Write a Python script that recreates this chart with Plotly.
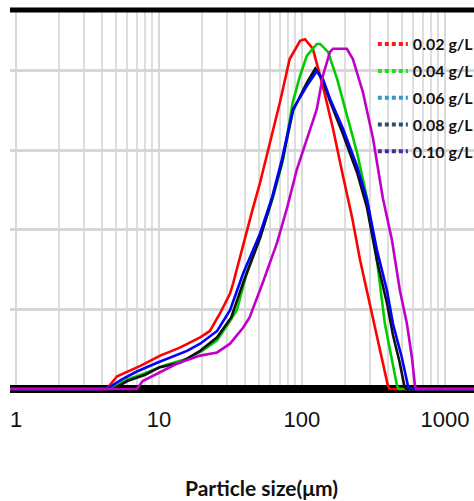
import plotly.graph_objects as go

# ---- data ----
series_names = ["0.02 g/L", "0.04 g/L", "0.06 g/L", "0.08 g/L", "0.10 g/L"]

red_size = [0.9, 4.3, 5.1, 7.4, 10.2, 14, 19.4, 22.7, 26.7, 31.4, 33, 41, 45, 51, 58, 70, 82, 97, 105, 119,
            140, 165, 194, 224, 255, 314, 363, 399, 410, 1700]
red_val = [0, 0, 0.16, 0.29, 0.42, 0.52, 0.65, 0.73, 0.95, 1.2, 1.33, 2.0, 2.25, 2.6, 3.0, 3.6, 4.15, 4.38, 4.4, 4.28,
           3.81, 3.27, 2.67, 2.16, 1.62, 0.9, 0.39, 0.04, 0, 0]

green_size = [0.9, 4.6, 6, 8, 11, 15.7, 20, 25.4, 30, 35, 41, 52, 63, 74, 86, 97, 108, 127, 134, 152,
              176, 206, 243, 285, 330, 380, 426, 462, 475, 1700]
green_val = [0, 0, 0.12, 0.2, 0.3, 0.38, 0.48, 0.61, 0.8, 0.99, 1.45, 1.96, 2.42, 2.9, 3.6, 3.94, 4.19, 4.34, 4.34, 4.24,
             3.9, 3.43, 2.97, 2.4, 1.7, 0.82, 0.39, 0.04, 0, 0]

blue_size = [0.9, 4.3, 5.5, 7, 9.7, 15.7, 19.4, 25.5, 31.4, 38.7, 51, 62, 72.4, 86.5, 108, 127, 140, 157, 194, 243,
             285, 334, 393, 433, 500, 551, 565, 1700]
blue_val = [0, 0, 0.12, 0.22, 0.33, 0.48, 0.57, 0.73, 0.99, 1.45, 1.96, 2.42, 2.89, 3.52, 3.81, 4.0, 3.9, 3.65, 3.27, 2.8,
            2.38, 1.75, 1.24, 0.82, 0.39, 0.04, 0, 0]

black_size = [0.9, 4.8, 6, 8, 10, 14, 19.4, 25.5, 32, 39, 51, 62, 72.4, 86.5, 108, 124, 140, 157, 194, 243,
              285, 334, 393, 433, 480, 520, 535, 1700]
black_val = [0, 0, 0.1, 0.18, 0.27, 0.33, 0.48, 0.65, 0.9, 1.35, 1.9, 2.4, 2.85, 3.5, 3.85, 4.03, 3.88, 3.62, 3.2, 2.72,
             2.28, 1.62, 1.08, 0.68, 0.35, 0.04, 0, 0]

magenta_size = [0.9, 7, 7.7, 9.7, 13.4, 19.4, 25.5, 31.4, 38.7, 43, 53, 67, 79, 92, 102, 127, 140, 157, 165, 206,
                227, 267, 314, 368, 426, 484, 542, 588, 617, 630, 1700]
magenta_val = [0, 0, 0.1, 0.19, 0.32, 0.42, 0.46, 0.57, 0.77, 0.9, 1.33, 1.84, 2.29, 2.76, 3.0, 3.52, 3.94, 4.24, 4.28, 4.28,
               4.15, 3.73, 3.15, 2.4, 1.87, 1.24, 0.82, 0.39, 0.04, 0, 0]

x_tick_vals = [1, 10, 100, 1000]
x_tick_text = ["1", "10", "100", "1000"]
x_title = "Particle size(μm)"

# drawing order: black under blue so blue shows, magenta on top
draw_order = [0, 1, 3, 2, 4]
curve_sizes = [red_size, green_size, blue_size, black_size, magenta_size]
curve_vals = [red_val, green_val, blue_val, black_val, magenta_val]
curve_colors = ["#ff0000", "#00cc00", "#0000ff", "#111111", "#c000c8"]
legend_colors = ["#ff1a1a", "#22dd22", "#3399cc", "#2f4f6a", "#4a2a9a"]

fig = go.Figure()

for i in draw_order:
    fig.add_trace(go.Scatter(x=curve_sizes[i], y=curve_vals[i], mode="lines",
                             line=dict(color=curve_colors[i], width=2.6),
                             showlegend=False, hoverinfo="skip"))

for i, (name, c) in enumerate(zip(series_names, legend_colors)):
    fig.add_trace(go.Scatter(x=[None], y=[None], mode="lines", name=name, legendgroup=f"g{i}",
                             line=dict(color=c, width=4, dash="4px,3px")))

fig.update_layout(
    width=474, height=501,
    margin=dict(l=10, r=0, t=10, b=109, autoexpand=False),
    paper_bgcolor="white", plot_bgcolor="white",
    showlegend=True,
    legend=dict(x=0.782, y=0.955, xanchor="left", yanchor="top", bgcolor="rgba(0,0,0,0)",
                font=dict(family="Lato", size=16, color="#111111", weight=700),
                itemwidth=30, tracegroupgap=3),
    xaxis=dict(type="log", range=[-0.042, 3.203], tickvals=x_tick_vals, ticktext=x_tick_text,
               automargin=False,
               showgrid=True, gridcolor="#d9d9d9", gridwidth=2,
               minor=dict(dtick="D1", showgrid=True, gridcolor="#dedede", gridwidth=2),
               ticks="outside", ticklen=8, tickcolor="rgba(0,0,0,0)",
               tickfont=dict(family="Liberation Sans", size=22, color="#111111"),
               showline=False, zeroline=False),
    yaxis=dict(range=[-0.0377, 4.767], dtick=1, showgrid=True, gridcolor="#d6d6d6", gridwidth=3,
               automargin=False,
               showticklabels=False, zeroline=True, zerolinecolor="black", zerolinewidth=8,
               showline=False, ticks=""),
    shapes=[dict(type="line", xref="paper", yref="paper", x0=0, x1=1, y0=1, y1=1,
                 line=dict(color="black", width=5))],
    annotations=[dict(text=x_title, xref="paper", yref="paper", x=0.541, y=-0.25,
                      xanchor="center", yanchor="middle", showarrow=False,
                      font=dict(family="Lato", size=21, color="#111111", weight=700))],
)

fig.write_html("out.html", config={"displayModeBar": False},
               post_script="document.body.style.margin='0';")
